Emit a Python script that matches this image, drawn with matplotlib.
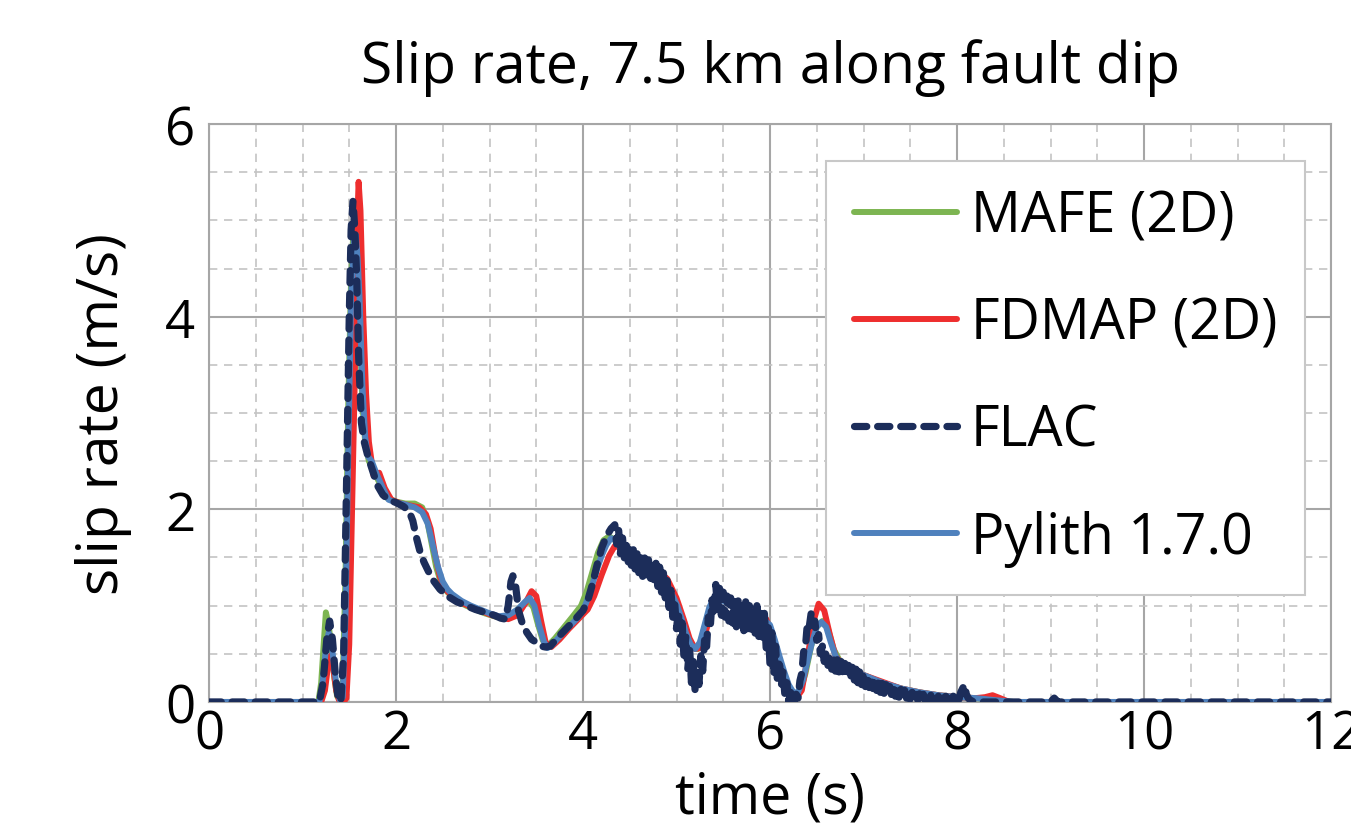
import numpy as np
import matplotlib
matplotlib.use("Agg")
import matplotlib.pyplot as plt
from matplotlib.ticker import MultipleLocator

plt.rcParams['font.family'] = ['Open Sans', 'DejaVu Sans']

# MAFE (2D)
mafe_t = [0.0, 1.17, 1.20, 1.23, 1.25, 1.28, 1.31, 1.34, 1.37, 1.40, 1.43, 1.46, 1.49, 1.52,
          1.55, 1.58, 1.61, 1.64, 1.67, 1.71, 1.76, 1.82, 1.90, 2.00, 2.10, 2.20, 2.28, 2.33,
          2.38, 2.43, 2.48, 2.55, 2.65, 2.75, 2.85, 2.95, 3.05, 3.15, 3.25, 3.35, 3.42, 3.47,
          3.52, 3.57, 3.62, 3.70, 3.80, 3.90, 3.98, 4.04, 4.10, 4.16, 4.22, 4.28, 4.34, 4.40,
          4.50, 4.60, 4.70, 4.80, 4.90, 5.00, 5.06, 5.12, 5.18, 5.23, 5.28, 5.34, 5.40, 5.46,
          5.55, 5.70, 5.85, 5.95, 6.02, 6.08, 6.14, 6.20, 6.26, 6.32, 6.38, 6.44, 6.50, 6.56,
          6.62, 6.68, 6.75, 6.85, 7.00, 7.20, 7.40, 7.60, 7.80, 8.00, 8.20, 8.40, 8.60, 12.0]
mafe_v = [0.0, 0.0, 0.20, 0.65, 0.93, 0.80, 0.55, 0.25, 0.06, 0.02, 0.20, 1.30, 3.10, 4.40,
          5.00, 4.80, 4.00, 3.10, 2.70, 2.50, 2.40, 2.28, 2.12, 2.08, 2.06, 2.06, 2.02, 1.90,
          1.65, 1.40, 1.24, 1.14, 1.05, 1.00, 0.96, 0.92, 0.89, 0.87, 0.92, 1.00, 1.05, 0.98,
          0.80, 0.64, 0.58, 0.66, 0.78, 0.90, 1.00, 1.15, 1.35, 1.55, 1.68, 1.72, 1.68, 1.60,
          1.48, 1.40, 1.36, 1.32, 1.20, 1.00, 0.85, 0.68, 0.56, 0.55, 0.70, 0.92, 1.06, 1.10,
          1.04, 0.97, 0.92, 0.85, 0.70, 0.50, 0.32, 0.16, 0.08, 0.10, 0.30, 0.58, 0.78, 0.84,
          0.76, 0.55, 0.42, 0.34, 0.28, 0.20, 0.14, 0.10, 0.07, 0.05, 0.04, 0.02, 0.0, 0.0]

# FDMAP (2D)
fdmap_t = [0.0, 1.20, 1.24, 1.27, 1.30, 1.33, 1.36, 1.39, 1.44, 1.47, 1.50, 1.53, 1.56,
           1.58, 1.60, 1.62, 1.65, 1.68, 1.71, 1.76, 1.82, 1.88, 1.95, 2.05, 2.15, 2.25, 2.32,
           2.37, 2.42, 2.47, 2.52, 2.60, 2.70, 2.80, 2.90, 3.00, 3.10, 3.20, 3.30, 3.38, 3.45,
           3.50, 3.55, 3.60, 3.66, 3.75, 3.85, 3.95, 4.05, 4.12, 4.20, 4.28, 4.34, 4.40, 4.48,
           4.58, 4.68, 4.80, 4.90, 5.00, 5.08, 5.14, 5.20, 5.25, 5.30, 5.36, 5.42, 5.48, 5.58,
           5.72, 5.86, 5.96, 6.04, 6.10, 6.16, 6.22, 6.28, 6.34, 6.40, 6.46, 6.52, 6.58, 6.64,
           6.70, 6.78, 6.88, 7.00, 7.20, 7.40, 7.60, 7.80, 8.00, 8.20, 8.30, 8.38, 8.46, 8.56, 12.0]
fdmap_v = [0.0, 0.0, 0.12, 0.35, 0.48, 0.35, 0.12, 0.02, 0.0, 0.04, 0.60, 2.00, 3.40,
           4.80, 5.40, 5.10, 4.00, 3.20, 2.70, 2.35, 2.38, 2.22, 2.10, 2.06, 2.04, 2.02, 1.95,
           1.80, 1.52, 1.30, 1.18, 1.10, 1.03, 0.99, 0.95, 0.91, 0.88, 0.86, 0.90, 1.02, 1.15,
           1.10, 0.85, 0.62, 0.57, 0.65, 0.76, 0.86, 0.96, 1.10, 1.32, 1.52, 1.62, 1.60, 1.50,
           1.42, 1.38, 1.36, 1.28, 1.08, 0.85, 0.66, 0.55, 0.56, 0.68, 0.90, 1.06, 1.10, 1.04,
           0.98, 0.93, 0.86, 0.66, 0.45, 0.25, 0.10, 0.04, 0.12, 0.45, 0.82, 1.02, 0.95, 0.70,
           0.48, 0.38, 0.33, 0.28, 0.21, 0.14, 0.10, 0.07, 0.05, 0.04, 0.05, 0.07, 0.04, 0.0, 0.0]

# FLAC: smooth start, noisy middle (sampled every 0.02 s from 4.34 s), tail
flac_t_a = [0.0, 1.18, 1.22, 1.26, 1.29, 1.32, 1.35, 1.38, 1.41, 1.44, 1.47, 1.50, 1.52,
            1.54, 1.56, 1.58, 1.60, 1.63, 1.66, 1.70, 1.75, 1.80, 1.86, 1.92, 2.00, 2.08,
            2.14, 2.18, 2.22, 2.26, 2.30, 2.35, 2.40, 2.47, 2.55, 2.65, 2.75, 2.85, 2.95,
            3.05, 3.12, 3.17, 3.20, 3.23, 3.25, 3.28, 3.31, 3.35, 3.40, 3.45, 3.50, 3.55,
            3.60, 3.65, 3.72, 3.80, 3.90, 4.00, 4.05, 4.10, 4.15, 4.20, 4.25, 4.30, 4.32]
flac_v_a = [0.0, 0.0, 0.20, 0.65, 0.84, 0.65, 0.30, 0.05, 0.0, 0.50, 2.20, 4.00, 4.90,
            5.20, 4.90, 4.40, 3.60, 2.90, 2.70, 2.55, 2.40, 2.25, 2.15, 2.10, 2.07, 2.03,
            1.98, 1.88, 1.70, 1.55, 1.45, 1.35, 1.26, 1.17, 1.10, 1.04, 1.00, 0.96, 0.93,
            0.90, 0.87, 0.86, 1.00, 1.25, 1.31, 1.20, 0.95, 0.82, 0.72, 0.65, 0.62, 0.58,
            0.57, 0.58, 0.66, 0.74, 0.84, 0.95, 1.05, 1.22, 1.42, 1.60, 1.72, 1.80, 1.82]
flac_v_noisy = [
    1.84, 1.64, 1.80, 1.54, 1.74, 1.48, 1.68, 1.42, 1.62, 1.38,
    1.60, 1.34, 1.56, 1.30, 1.52, 1.28, 1.50, 1.32, 1.48, 1.26,
    1.46, 1.24, 1.44, 1.20, 1.40, 1.14, 1.34, 1.08, 1.26, 0.98,
    1.16, 0.88, 1.04, 0.76, 0.94, 0.60, 0.82, 0.46, 0.68, 0.34,
    0.56, 0.20, 0.42, 0.10, 0.32, 0.18, 0.48, 0.32, 0.64, 0.54,
    0.88, 0.76, 1.06, 0.90, 1.22, 0.96, 1.18, 0.90, 1.14, 0.88,
    1.10, 0.84, 1.08, 0.82, 1.04, 0.78, 1.06, 0.76, 1.02, 0.74,
    1.04, 0.76, 1.00, 0.72, 0.98, 0.70, 1.00, 0.68, 0.94, 0.64,
    0.92, 0.54, 0.82, 0.38, 0.72, 0.28, 0.58, 0.20, 0.44, 0.16,
    0.32, 0.06, 0.20, 0.00, 0.10, 0.00, 0.02, 0.08, 0.04, 0.22,
    0.30, 0.52, 0.58, 0.82, 0.78, 0.92, 0.80, 0.84, 0.64, 0.70,
    0.50, 0.58, 0.42, 0.52, 0.38, 0.50, 0.34, 0.46, 0.32, 0.44,
    0.30, 0.42, 0.28, 0.40, 0.26, 0.38, 0.24, 0.36, 0.22, 0.34,
    0.20, 0.32, 0.18, 0.30, 0.16, 0.28, 0.15, 0.26, 0.14, 0.24,
    0.12, 0.22, 0.10, 0.20, 0.09, 0.18, 0.08, 0.16, 0.07, 0.15,
    0.06, 0.14, 0.05, 0.13, 0.04, 0.12, 0.04, 0.11, 0.03, 0.10,
    0.03, 0.09, 0.02, 0.09, 0.02, 0.08, 0.01, 0.08, 0.01, 0.07,
    0.01, 0.07, 0.00, 0.06, 0.01, 0.07, 0.00, 0.06, 0.00, 0.05,
    0.00, 0.06, 0.01, 0.05, 0.02, 0.10, 0.14, 0.18, 0.08, 0.04,
    0.02, 0.01, 0.00, 0.00]
flac_t_c = [8.40, 9.00, 9.04, 9.08, 12.0]
flac_v_c = [0.0, 0.0, 0.04, 0.0, 0.0]

# Pylith 1.7.0
pylith_t = [0.0, 1.18, 1.21, 1.25, 1.28, 1.31, 1.34, 1.37, 1.40, 1.43, 1.46, 1.49, 1.52,
            1.55, 1.57, 1.59, 1.61, 1.64, 1.67, 1.70, 1.74, 1.80, 1.86, 1.92, 2.00, 2.10,
            2.20, 2.28, 2.34, 2.40, 2.45, 2.50, 2.55, 2.60, 2.70, 2.80, 2.90, 3.00, 3.10,
            3.20, 3.30, 3.38, 3.43, 3.48, 3.53, 3.58, 3.62, 3.66, 3.75, 3.85, 3.95, 4.00,
            4.05, 4.10, 4.15, 4.20, 4.25, 4.30, 4.35, 4.40, 4.50, 4.60, 4.70, 4.80, 4.90,
            5.00, 5.05, 5.10, 5.15, 5.20, 5.25, 5.30, 5.35, 5.40, 5.45, 5.50, 5.60, 5.70,
            5.80, 5.90, 6.00, 6.05, 6.10, 6.15, 6.20, 6.25, 6.30, 6.35, 6.40, 6.45, 6.50,
            6.55, 6.60, 6.65, 6.70, 6.75, 6.80, 6.90, 7.00, 7.20, 7.40, 7.60, 7.80, 8.00,
            8.20, 8.40, 8.60, 12.0]
pylith_v = [0.0, 0.0, 0.15, 0.55, 0.72, 0.62, 0.35, 0.12, 0.02, 0.05, 0.90, 2.60, 4.20,
            4.80, 4.85, 4.60, 4.20, 3.30, 2.75, 2.55, 2.50, 2.35, 2.22, 2.10, 2.07, 2.05,
            2.02, 1.97, 1.85, 1.60, 1.40, 1.25, 1.17, 1.12, 1.05, 1.00, 0.96, 0.92, 0.89,
            0.90, 0.96, 1.04, 1.08, 1.00, 0.80, 0.63, 0.56, 0.58, 0.68, 0.78, 0.88, 0.95,
            1.07, 1.22, 1.38, 1.52, 1.63, 1.70, 1.68, 1.60, 1.48, 1.40, 1.36, 1.32, 1.22,
            1.02, 0.88, 0.72, 0.60, 0.55, 0.62, 0.80, 0.98, 1.08, 1.10, 1.05, 1.00, 0.97,
            0.93, 0.88, 0.80, 0.65, 0.48, 0.32, 0.18, 0.10, 0.10, 0.22, 0.42, 0.62, 0.78,
            0.83, 0.78, 0.62, 0.48, 0.40, 0.36, 0.32, 0.28, 0.20, 0.14, 0.10, 0.07, 0.05,
            0.04, 0.02, 0.0, 0.0]

flac_t = np.concatenate([flac_t_a, np.round(4.34 + 0.02 * np.arange(len(flac_v_noisy)), 2), flac_t_c])
flac_v = np.concatenate([flac_v_a, flac_v_noisy, flac_v_c])

fig = plt.figure(figsize=(13.51, 8.28), dpi=100)
ax = fig.add_axes([0.1547, 0.151, 0.8305, 0.698])

l_mafe, = ax.plot(mafe_t, mafe_v, color='#7DB552', lw=4.3, solid_capstyle='round', zorder=3)
l_fdmap, = ax.plot(fdmap_t, fdmap_v, color='#EE2E2E', lw=4.3, solid_capstyle='round', zorder=4)
l_pyl, = ax.plot(pylith_t, pylith_v, color='#4F81BD', lw=4.3, solid_capstyle='round', zorder=5)
l_flac, = ax.plot(flac_t, flac_v, color='#1C2D5A', lw=5.2, dashes=(1.7, 1.5),
                  dash_capstyle='round', zorder=6)

ax.set_xlim(0, 12)
ax.set_ylim(0, 6)
ax.xaxis.set_major_locator(MultipleLocator(2))
ax.yaxis.set_major_locator(MultipleLocator(2))
ax.xaxis.set_minor_locator(MultipleLocator(0.5))
ax.yaxis.set_minor_locator(MultipleLocator(0.5))
ax.set_axisbelow(True)
ax.grid(which='major', color='#A6A6A6', lw=1.5, zorder=1)
ax.grid(which='minor', color='#C4C4C4', lw=1.2, dashes=(5, 4), zorder=0)
ax.tick_params(which='both', length=0, labelsize=38)
ax.tick_params(axis='x', pad=4)
ax.tick_params(axis='y', pad=10)
for s in ax.spines.values():
    s.set_color('#A6A6A6')
    s.set_linewidth(1.5)

ax.set_title('Slip rate, 7.5 km along fault dip', fontsize=41, pad=30)
ax.set_xlabel('time (s)', fontsize=40, labelpad=6)
ax.set_ylabel('slip rate (m/s)', fontsize=41, labelpad=24)

leg = ax.legend([l_mafe, l_fdmap, l_flac, l_pyl],
                ['MAFE (2D)', 'FDMAP (2D)', 'FLAC', 'Pylith 1.7.0'],
                loc='upper right', bbox_to_anchor=(0.977, 0.936), fontsize=40,
                frameon=True, fancybox=False, framealpha=1, edgecolor='#C8C8C8',
                handlelength=1.85, handletextpad=0.25, labelspacing=0.9,
                borderpad=0.5, borderaxespad=0)
leg.get_frame().set_linewidth(1.5)
leg.set_zorder(10)

fig.savefig('out.png', dpi=100)
